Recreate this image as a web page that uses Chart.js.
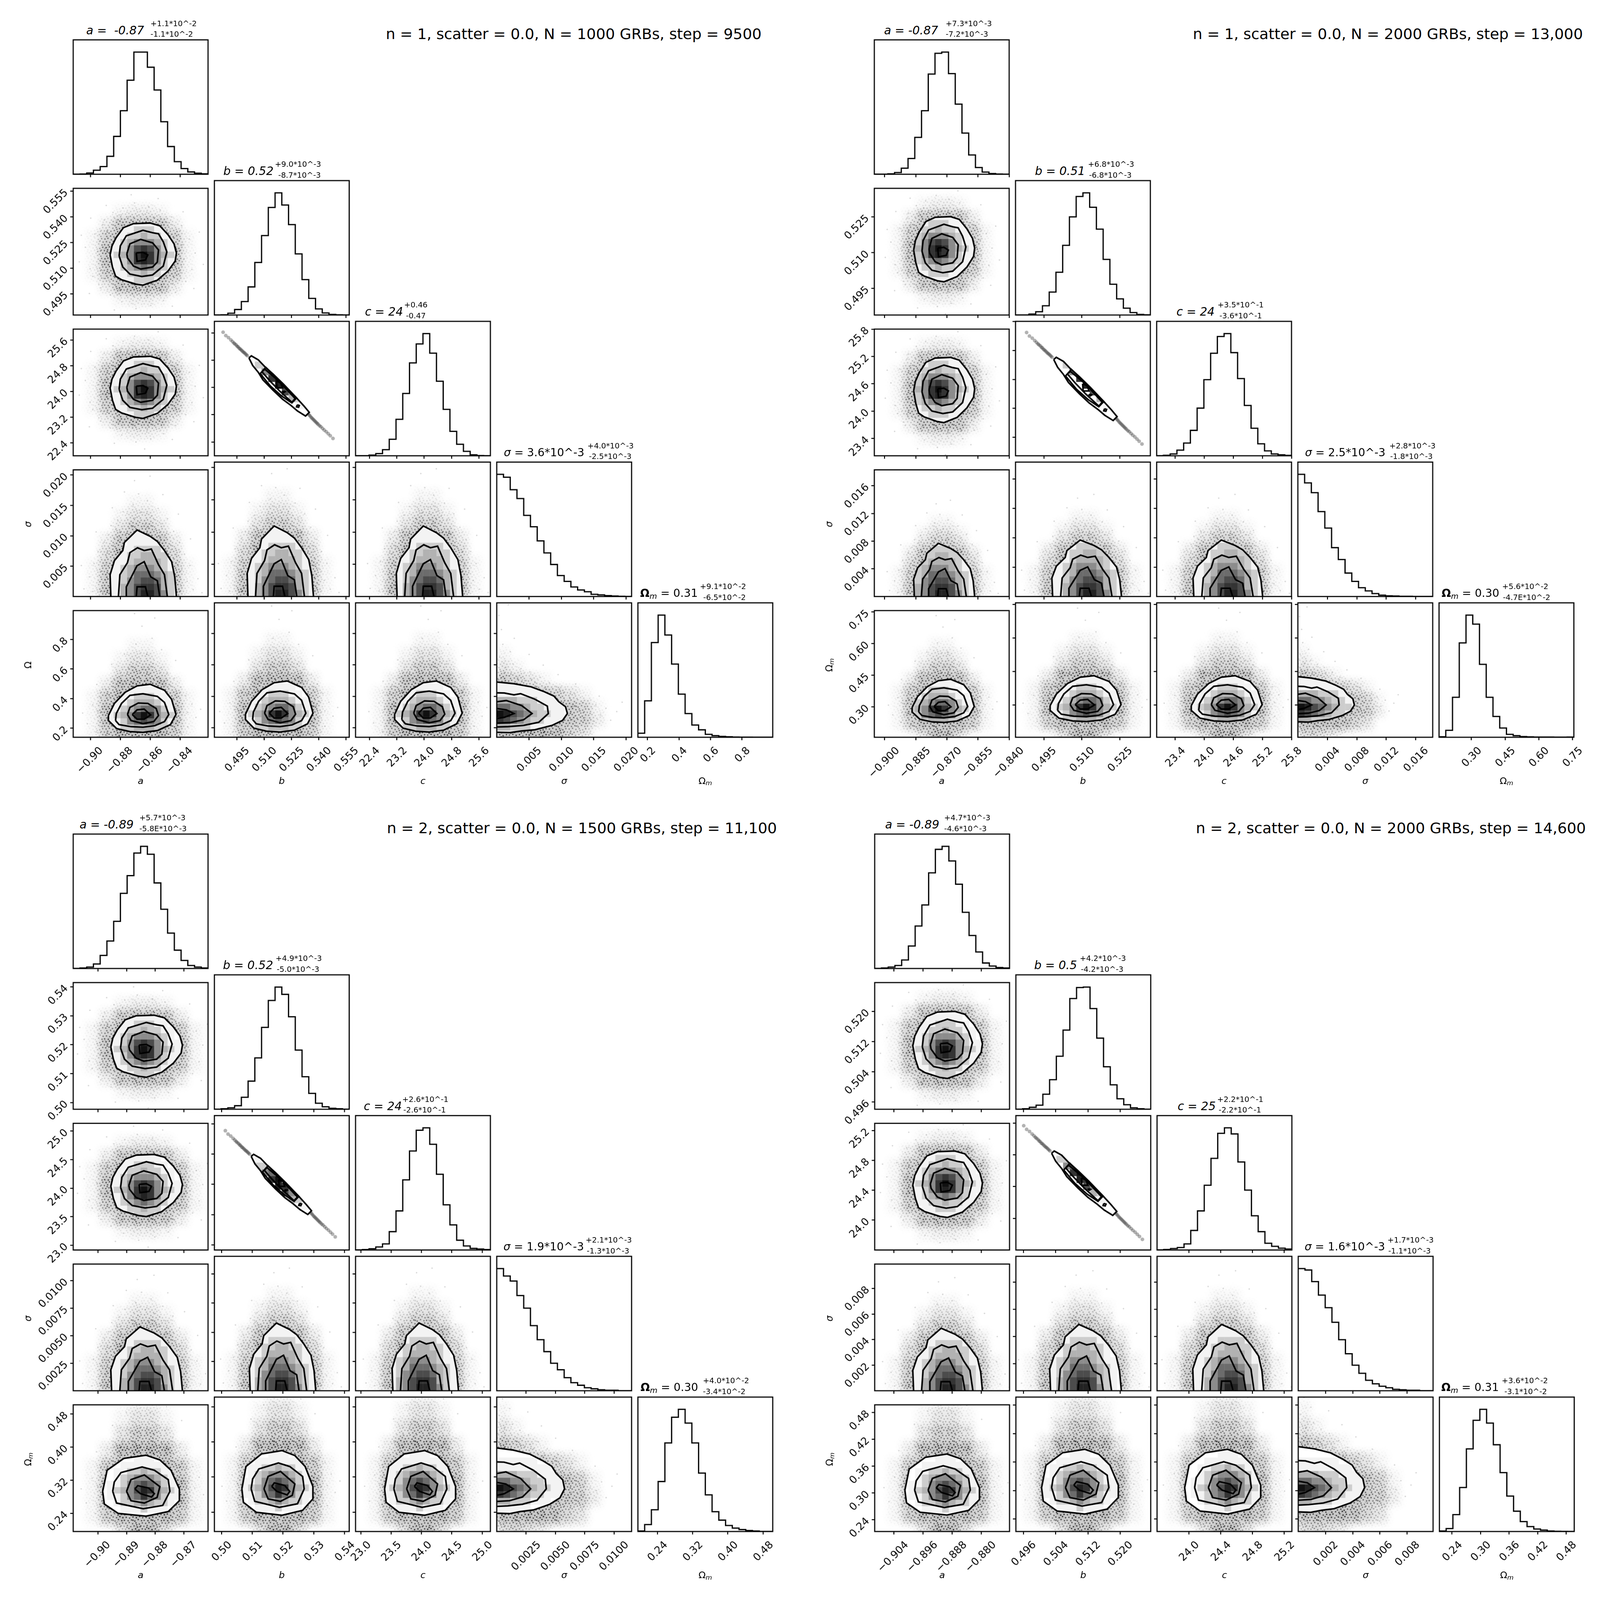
<!DOCTYPE html>
<html>
<head>
<meta charset="utf-8">
<title>Corner plots</title>
<script src="https://cdn.jsdelivr.net/npm/chart.js@4"></script>
<style>
  html, body { margin: 0; padding: 0; background: #fff; overflow: hidden; }
  #page { position: relative; width: 4284px; height: 4297px; overflow: hidden; background: #fff; font-family: "DejaVu Sans", sans-serif; color: #000; transform-origin: 0 0; }
  #page canvas { position: absolute; }
  #page div.txt { position: absolute; white-space: pre; line-height: 1; }
  sub { font-size: 70%; vertical-align: baseline; position: relative; top: .25em; }
</style>
</head>
<body>
<div id="page"></div>
<script>
// Figure titles
const figureTitles = [
    'n = 1, scatter = 0.0, N = 1000 GRBs, step = 9500',
    'n = 1, scatter = 0.0, N = 2000 GRBs, step = 13,000',
    'n = 2, scatter = 0.0, N = 1500 GRBs, step = 11,100',
    'n = 2, scatter = 0.0, N = 2000 GRBs, step = 14,600'
];

// Diagonal titles: value, upper error, lower error (a, b, c, sigma, omega)
const fig1Values = ['-0.87', '0.52', '24', '3.6*10^-3', '0.31'];
const fig1Upper = ['+1.1*10^-2', '+9.0*10^-3', '+0.46', '+4.0*10^-3', '+9.1*10^-2'];
const fig1Lower = ['-1.1*10^-2', '-8.7*10^-3', '-0.47', '-2.5*10^-3', '-6.5*10^-2'];
const fig2Values = ['-0.87', '0.51', '24', '2.5*10^-3', '0.30'];
const fig2Upper = ['+7.3*10^-3', '+6.8*10^-3', '+3.5*10^-1', '+2.8*10^-3', '+5.6*10^-2'];
const fig2Lower = ['-7.2*10^-3', '-6.8*10^-3', '-3.6*10^-1', '-1.8*10^-3', '-4.7E*10^-2'];
const fig3Values = ['-0.89', '0.52', '24', '1.9*10^-3', '0.30'];
const fig3Upper = ['+5.7*10^-3', '+4.9*10^-3', '+2.6*10^-1', '+2.1*10^-3', '+4.0*10^-2'];
const fig3Lower = ['-5.8E*10^-3', '-5.0*10^-3', '-2.6*10^-1', '-1.3*10^-3', '-3.4*10^-2'];
const fig4Values = ['-0.89', '0.5', '25', '1.6*10^-3', '0.31'];
const fig4Upper = ['+4.7*10^-3', '+4.2*10^-3', '+2.2*10^-1', '+1.7*10^-3', '+3.6*10^-2'];
const fig4Lower = ['-4.6*10^-3', '-4.2*10^-3', '-2.2*10^-1', '-1.1*10^-3', '-3.1*10^-2'];

// Axis ranges per parameter
const fig1Ranges = [[-0.9115, -0.8213], [0.4826, 0.5567], [21.996, 25.937], [0, 0.02085], [0.139, 0.995]];
const fig2Ranges = [[-0.905, -0.84], [0.4838, 0.537], [23.02, 25.8], [0, 0.0183], [0.1556, 0.7567]];
const fig3Ranges = [[-0.9086, -0.8616], [0.4977, 0.5415], [22.915, 25.136], [0, 0.0115], [0.196, 0.502]];
const fig4Ranges = [[-0.9092, -0.8723], [0.4941, 0.5276], [23.6, 25.296], [0, 0.0099], [0.2135, 0.497]];

// Tick labels per parameter
const fig1Ticks = [['−0.90', '−0.88', '−0.86', '−0.84'], ['0.495', '0.510', '0.525', '0.540', '0.555'], ['22.4', '23.2', '24.0', '24.8', '25.6'], ['0.005', '0.010', '0.015', '0.020'], ['0.2', '0.4', '0.6', '0.8']];
const fig2Ticks = [['−0.900', '−0.885', '−0.870', '−0.855', '−0.840'], ['0.495', '0.510', '0.525'], ['23.4', '24.0', '24.6', '25.2', '25.8'], ['0.004', '0.008', '0.012', '0.016'], ['0.30', '0.45', '0.60', '0.75']];
const fig3Ticks = [['−0.90', '−0.89', '−0.88', '−0.87'], ['0.50', '0.51', '0.52', '0.53', '0.54'], ['23.0', '23.5', '24.0', '24.5', '25.0'], ['0.0025', '0.0050', '0.0075', '0.0100'], ['0.24', '0.32', '0.40', '0.48']];
const fig4Ticks = [['−0.904', '−0.896', '−0.888', '−0.880'], ['0.496', '0.504', '0.512', '0.520'], ['24.0', '24.4', '24.8', '25.2'], ['0.002', '0.004', '0.006', '0.008'], ['0.24', '0.30', '0.36', '0.42', '0.48']];

// Posterior centre and contour width (relative to figure 1 in bin units)
const fig1Centers = [-0.8664, 0.5174, 24.08, 0, 0.29];
const fig2Centers = [-0.8725, 0.5108, 24.43, 0, 0.30];
const fig3Centers = [-0.884, 0.519, 24.02, 0, 0.293];
const fig4Centers = [-0.89, 0.5107, 24.46, 0, 0.306];
const fig1Spread = [1, 1, 1, 1, 1];
const fig2Spread = [0.92, 1.05, 1.05, 0.8, 0.9];
const fig3Spread = [1.08, 1, 1, 0.96, 1.3];
const fig4Spread = [1.05, 1.08, 1.07, 0.94, 1.3];

// Histogram heights, 20 bins, percent of peak
const fig1Hist = [
    [0, 0.2, 1, 3.3, 6.3, 14.7, 31, 52, 77, 100, 100, 87.6, 69, 43, 22.7, 10.3, 4.7, 1.9, 0.9, 0.3],
    [0, 0.2, 1.5, 4.5, 11, 23, 43, 65, 88, 100, 90, 74, 50, 29, 13.6, 5, 1.7, 0.5, 0.2, 0],
    [0, 0, 0.6, 1.8, 5, 13.5, 29.8, 51, 76, 91.5, 100, 84, 61, 38, 20, 9.4, 3.6, 0.8, 0.2, 0],
    [100, 97.6, 87.4, 80.2, 66.4, 57.1, 45.5, 35.7, 26.2, 17.2, 12.4, 7.8, 5.4, 3.9, 1.8, 1.3, 0.7, 0.4, 0.2, 0],
    [3.3, 29.8, 77.5, 100, 83.7, 59.9, 35.3, 19.4, 10, 6.1, 2.4, 1.3, 0.7, 0.4, 0.2, 0.1, 0.1, 0, 0, 0]
];
const fig2Hist = [
    [0, 0, 0.3, 1.4, 5, 12.9, 30.2, 52, 82, 99, 100, 82.4, 57.4, 33.7, 15.8, 5.5, 1.8, 0.6, 0.2, 0],
    [0, 0, 0.8, 2.7, 7.6, 18.8, 35, 57, 80.3, 97, 100, 88.2, 70.3, 45.5, 25.2, 13.2, 5.6, 2, 0.5, 0.2],
    [0, 0.4, 1.5, 4.6, 10.4, 20.8, 39, 62.3, 83.9, 97.6, 100, 84.4, 63.2, 41.2, 22.5, 9.8, 4, 1.5, 0.8, 0.3],
    [100, 93, 85, 69.5, 56, 40, 30.3, 19.2, 12.4, 7.2, 4.6, 2.4, 1.1, 0.6, 0.4, 0.2, 0.2, 0, 0, 0],
    [0.4, 5.7, 32.7, 77.2, 100, 92.6, 59.7, 32.7, 17, 7.6, 2.4, 1.3, 0.6, 0.3, 0.2, 0.2, 0.2, 0.1, 0.1, 0.2]
];
const fig3Hist = [
    [0, 0.4, 1.2, 3.7, 10.7, 22.5, 38.6, 61.5, 76, 94.5, 100, 93.5, 70, 48.5, 29, 15, 6.6, 2.5, 1.2, 0.4],
    [0, 0.4, 1.2, 2.9, 9.8, 23, 42, 67, 89, 100, 94, 75.7, 48.4, 26.6, 13, 4.9, 2, 0.8, 0.4, 0],
    [0, 0.3, 1, 2.5, 5, 15, 32, 57.4, 81, 98, 100, 86.5, 62, 37, 20.5, 8, 3.3, 1.3, 0.8, 0.3],
    [100, 93.9, 89.8, 77.9, 67.6, 53.3, 41.8, 32, 22.5, 17.2, 10.7, 6.6, 4.5, 2.5, 1.6, 0.8, 0.4, 0.4, 0, 0],
    [0.4, 5.7, 17.8, 40.9, 72.5, 93.5, 100, 88.7, 72.5, 47.8, 30, 16.2, 9.3, 4.9, 2.8, 1.6, 0.8, 0.4, 0, 0]
];
const fig4Hist = [
    [0, 0.4, 1.2, 2.5, 7, 18.4, 34.8, 52, 78.3, 97.5, 100, 88, 69, 46, 27, 13.5, 4.5, 2, 0.8, 0.4],
    [0, 0.4, 1.6, 3.3, 12.3, 24.2, 43.4, 64.8, 90.6, 99.6, 100, 82.4, 58.2, 34.8, 20, 8.6, 3.7, 1.2, 0.4, 0],
    [0, 0.4, 1.2, 2, 5, 16, 32, 53, 75, 95.5, 100, 95, 72, 49, 28, 15, 5.5, 3, 1.5, 0.8],
    [100, 98.8, 89.3, 78.3, 68, 56, 41.8, 30.3, 20.9, 14.3, 8.6, 5.7, 3.7, 2.5, 1.2, 0.8, 0.4, 0.4, 0, 0],
    [0.4, 2.4, 13.8, 36, 67.6, 91, 100, 88.7, 71, 48.2, 29, 16.6, 8.1, 4, 2, 1.2, 0.4, 0.2, 0.1, 0]
];

// Contours, offsets from the centre in histogram bins
const roundContours = [
    [[-4.53, 0.1], [-4.25, 1.53], [-3.65, 2.8], [-2.55, 4.4], [-1.06, 5.03], [1.42, 5.13], [2.83, 4.71], [4.07, 3.28], [4.96, 1.85], [5.31, 0.41], [5.13, -0.86], [4.07, -2.45], [2.48, -3.89], [0.35, -4.68], [-0.71, -4.52], [-2.83, -3.82], [-3.72, -3.25], [-4.18, -1.82]],
    [[-3.19, -0.06], [-3.01, 1.53], [-2.12, 3.12], [0.35, 3.98], [1.77, 3.6], [2.65, 3.44], [3.36, 2.17], [3.89, 0.57], [3.36, -1.66], [1.77, -3.07], [0.18, -3.31], [-1.59, -2.93], [-2.65, -1.82]],
    [[-2.05, 0.25], [-1.59, 1.85], [0, 2.55], [1.77, 2], [2.65, 0.89], [2.48, -1.02], [1.77, -1.82], [0, -2.13], [-1.06, -1.66], [-1.95, -0.38]],
    [[-0.64, 0.41], [0.35, 0.51], [1.06, 0.1], [0.71, -0.7], [-0.53, -0.92]]
];
const sliverContours = [
    [[-4.27, 3.98], [-3.91, 4.29], [-2.88, 3.7], [-1.91, 2.68], [-0.66, 1.56], [0.86, 0.07], [2.8, -1.97], [3.9, -3.18], [4.68, -4.11], [4.13, -4.67], [2.94, -3.92], [1.97, -3.09], [0.72, -2.16], [-0.66, -0.86], [-2.19, 0.72], [-2.88, 1.84], [-3.71, 2.86]],
    [[-2.6, 1.65], [-1.77, 2.58], [-0.25, 1.1], [1.41, -0.58], [2.8, -1.97], [2.1, -2.71], [0.58, -1.69], [-1.08, -0.2]],
    [[-2.33, 1.93], [-1.91, 2.3], [0.17, 0.54], [2.58, -2.06], [2.1, -2.62], [0.3, -0.95], [-1.22, 0.63]],
    [[-0.19, 0.54], [0.44, 0.26], [0.72, -0.48], [-0.11, -0.48]],
    [[0.9, -0.95], [1.1, -1.04], [0.9, -1.17], [0.75, -1.04]],
    [[2.9, -3.0], [3.2, -3.1], [3.1, -3.35], [2.8, -3.3]]
];
const domeContours = [
    [[-4.42, -1], [-4.42, 0], [-4.53, 3.44], [-3.89, 5.67], [-2.65, 7.26], [-2.41, 8.54], [-0.53, 10.5], [1.42, 9.5], [2.48, 8.7], [3.54, 7.26], [4.6, 5.5], [5.06, 3.12], [5.31, 0], [5.31, -1]],
    [[-3.29, -1], [-3.29, 0], [-3.08, 3.44], [-1.95, 5.35], [-1.59, 6.94], [-0.46, 7.7], [0.53, 7.26], [1.59, 7.5], [2.65, 5.03], [3.54, 3.44], [3.96, 0], [3.96, -1]],
    [[-2.12, -1], [-2.12, 1.53], [-0.53, 4.87], [0.53, 5.5], [1.49, 3.12], [2.48, 2.48], [2.83, 0], [2.83, -1]],
    [[-0.64, -1], [-0.64, 0], [-0.53, 1.53], [0.71, 1.53], [1.06, 0], [1.06, -1]]
];
const eggContoursA = [
    [[-4.78, -0.1], [-4.78, -0.89], [-3.54, -2.17], [-1.59, -2.64], [0.35, -2.74], [2.48, -2.48], [4.42, -1.53], [5.24, 0.06], [4.6, 2.45], [3.54, 3.89], [1.42, 4.84], [-0.53, 4.59], [-2.3, 3.57], [-3.89, 1.82]],
    [[-3.72, -0.89], [-3.19, -1.53], [-1.42, -1.85], [0.35, -1.94], [2.12, -1.69], [3.54, -1.05], [4.18, 0.06], [3.54, 1.97], [2.48, 2.93], [0.35, 3.34], [-1.59, 3.09], [-2.83, 1.82], [-3.61, 0.22]],
    [[-1.95, 0.06], [-1.42, -0.89], [0.35, -1.37], [1.95, -1.05], [2.65, -0.1], [2.3, 1.02], [1.06, 1.82], [-0.35, 1.88], [-1.59, 1.18]],
    [[-1.24, 0.06], [-0.53, -0.67], [0.53, -0.67], [1.49, 0], [0.53, 0.92], [-0.53, 0.8]]
];
const eggContoursB = [
    [[-5.65, 0], [-5.42, -2], [-3.51, -3.48], [0.3, -3.92], [3.36, -3.19], [4.89, -1.48], [4.89, 0.37], [3.74, 3.33], [2.21, 4.96], [0.3, 5.7], [-2.75, 5.19], [-5.04, 3.33]],
    [[-4.27, 0], [-3.74, -1.85], [-0.08, -2.74], [2.6, -2.22], [3.59, 0], [3.36, 1.85], [1.45, 3.33], [-0.23, 3.85], [-3.13, 2.96], [-4.05, 1.48]],
    [[-2.37, 0], [-1.76, -1.48], [0.08, -1.85], [1.83, -0.96], [2.21, 0.74], [0.08, 2.59], [-1.76, 1.85]],
    [[-1.22, 0.37], [-0.46, -0.37], [1.07, -0.89], [1.45, -0.37], [0.69, 0.52], [-0.84, 0.89]]
];
const wedgeContours = [
    [[-1, -2.78], [0, -2.78], [1.98, -2.83], [3.68, -2.59], [5.67, -2.41], [8.2, -1.76], [9.77, -1.02], [10.48, 0], [10.2, 1.02], [9.2, 1.76], [8.5, 2.59], [7.08, 3.24], [5.1, 3.98], [2.55, 4.44], [0, 4.69], [-1, 4.69]],
    [[-1, -2], [0, -2], [1.7, -1.94], [3.97, -1.76], [6.23, -1.3], [7.65, 0], [7.5, 1.11], [5.67, 2.13], [3.54, 2.96], [2.55, 2.78], [1.13, 3.06], [0, 3.09], [-1, 3.09]],
    [[-1, -1.44], [0, -1.44], [1.98, -1.35], [3.97, -0.93], [5.24, 0], [3.68, 1.2], [1.42, 1.94], [0, 1.76], [-1, 1.76]],
    [[-1, -0.74], [0, -0.74], [1.13, -0.56], [2.55, 0], [1.42, 0.56], [0, 0.74], [-1, 0.74]]
];

// Density cells: grey level per bin, first row is the top one
const roundCells = ['00011111000', '00112221100', '01122322110', '01234443210', '11246764211', '12347974321', '11247874211', '01234543210', '01122322110', '00112221100', '00011111000'];
const sliverCells = ['00000000000', '00100000000', '00220000000', '00045000000', '00007900000', '00000870000', '00000064000', '00000003200', '00000000110', '00000000000', '00000000000'];
const domeCells = ['00001110000', '00011111100', '00011111110', '00112222110', '01122332210', '01123333210', '11234443211', '11235554321', '11245665321', '11346776321', '11346886421'];
const eggCellsA = ['00011111000', '00112221100', '01123332110', '11234554211', '12347974321', '11245654211', '01223332210', '00111111100'];
const eggCellsB = ['00001110000', '00111111100', '01122322110', '01234443210', '11245654211', '12346874321', '11245754211', '01223432210', '00111211100'];
const wedgeCells = ['11111100000', '11111111000', '33322211100', '55443221110', '98654322110', '76543221110', '33222111000', '11111000000'];

// Point haze around the contours, 2 bin cells, first row is the top one
const roundHaze = ['0000000000', '0001221000', '0027887200', '0169999610', '0189999810', '0189999810', '0169999610', '0027887200', '0001221000', '0000000000'];
const domeHaze = ['0000000000', '0000000000', '0000110000', '0001331000', '0003663000', '0027997200', '0049999400', '0169999610', '0179999710', '0189999810'];
const eggHaze = ['0000000000', '0000110000', '0001331000', '0003663000', '0028998200', '0169999610', '0189999810', '0189999810', '0169999610', '0003993000'];
const wedgeHaze = ['0000000000', '1000000000', '3100000000', '7531000000', '9997531000', '9999875100', '9999976200', '9999853000', '4532000000'];

// Sample of individual points seen outside the contours, in bins from the centre
const roundDots = [[-8.2, 1.3], [-7.5, -2.1], [-6.8, 3.4], [-6.2, -4.6], [-5.4, 5.6], [-4.1, 6.8], [-2.6, 7.5], [-0.9, 8.3], [1.2, 7.7], [2.9, 7.2], [4.6, 6.1], [6.1, 4.7], [7.2, 2.6], [8.1, 0.4], [7.6, -2.2], [6.7, -4.1], [5.2, -5.8], [3.4, -7.1], [1.5, -7.9], [-0.7, -8.4], [-2.8, -7.3], [-4.5, -6.2], [-5.9, -5.1], [-7.1, -3.3], [-6.4, 0.6], [-6.1, 2.2], [-5.6, -2.4], [-5.9, -0.9], [-5, 3.9], [-3.6, 5.6], [-1.8, 6.1], [0.4, 6.4], [2.1, 6], [3.9, 5.2], [5.4, 3.8], [6.2, 1.7], [6.4, -0.6], [5.9, -2.7], [4.8, -4.4], [3.1, -5.7], [1, -6.3], [-1.2, -6.1], [-3.2, -5.3], [-4.7, -3.9], [-9.1, -1], [-8.8, 3.2], [-7.4, 5.9], [-5.1, 7.9], [-1.4, 9.6], [2.6, 9], [6.3, 6.9], [8.7, 3.7], [9.3, -1.4], [7.9, -5.2], [4.7, -8], [0.6, -9.5], [-3.9, -8.6], [-7.6, -6], [-5.3, 1.1], [-5.6, 4.9], [-2.9, 6.4], [1.1, 5.6], [4.4, 4.2], [5.7, 0.2], [4.1, -5.1], [-0.2, -5.6], [-5.5, -3.6]];
const sliverDots = [[-8.1, 7.8], [-7.7, 7.3], [-7.3, 7], [-6.95, 6.65], [-6.7, 6.4], [-6.5, 6.2], [-6.35, 6.05], [-6.15, 5.9], [-6, 5.7], [-5.85, 5.6], [-5.7, 5.4], [-5.55, 5.3], [-5.4, 5.15], [-5.25, 5], [-5.1, 4.85], [-4.95, 4.75], [-4.8, 4.6], [-4.65, 4.45], [-4.5, 4.3], [4.5, -4.3], [4.65, -4.5], [4.8, -4.65], [4.95, -4.85], [5.1, -5], [5.25, -5.15], [5.4, -5.3], [5.55, -5.45], [5.7, -5.6], [5.85, -5.75], [6, -5.9], [6.2, -6.1], [6.4, -6.25], [6.65, -6.5], [6.9, -6.75], [7.2, -7], [7.5, -7.3], [7.8, -7.6], [8.2, -8]];
const domeDots = [[-8.4, 1.2], [-7.6, 3.1], [-7.1, 0.8], [-6.9, 5.2], [-6.3, 7.1], [-6.1, 2.3], [-5.7, 4], [-5.4, 8.6], [-5.6, 0.7], [-5.1, 6.4], [-4.8, 9.7], [-4.4, 11.2], [-3.9, 8.3], [-3.4, 12.1], [-3.1, 10.2], [-2.6, 13.4], [-2.2, 9.9], [-1.7, 11.6], [-1.1, 14.5], [-0.8, 12.4], [-0.3, 16.2], [0.2, 13.3], [0.7, 11.4], [1, 15.1], [1.6, 12.7], [2.1, 10.6], [2.6, 13.9], [3, 11.5], [3.5, 9.4], [4, 12.3], [4.4, 8.2], [4.9, 10.3], [5.3, 6.6], [5.8, 8.5], [6.1, 4.2], [6.5, 6.7], [6.9, 2.4], [7.3, 4.9], [7.8, 1.1], [8.5, 2.8], [9.1, 0.6], [-0.9, 18.3], [1.4, 19], [-2.4, 16.5], [3.3, 16.1], [-4.2, 14], [5.6, 13], [-6.6, 10.2], [7.4, 9.1], [-8.8, 4.9], [-4.6, 7.2], [-3.2, 9], [-1.3, 11], [0.9, 10.9], [2.9, 9.5], [4.5, 7.4], [5.6, 4.8], [5.9, 1.9], [-5.2, 2.6], [-5.1, 5], [-0.4, 10.3], [-3.7, 10.6], [2.2, 12.1]];
const eggDots = [[-8.6, 0.3], [-7.9, -1.4], [-7.1, 1.6], [-6.6, -2.7], [-6.3, 0.6], [-5.9, 2.8], [-5.6, -1.1], [-5.2, 4.1], [-5, -3.2], [-4.6, 2.9], [-4.2, 5.3], [-3.6, -3.7], [-3.3, 4.4], [-2.9, 6.2], [-2.2, 5.2], [-1.8, 7.3], [-1.2, 6.1], [-0.6, 8.4], [-0.2, 5.9], [0.4, 7.2], [0.9, 9.6], [1.3, 6.4], [1.9, 8.1], [2.4, 5.9], [2.9, 7.4], [3.4, 5.2], [4, 6.6], [4.4, 4.7], [5, 5.8], [5.3, 3.4], [5.9, 4.4], [6.2, 1.8], [6.7, 3], [7, 0.4], [7.6, 1.7], [8.2, -0.4], [8.9, 0.9], [7, -1.9], [6, -2.9], [4.9, -3.4], [3.3, -3.9], [1.2, -4.2], [-1, -4.3], [-0.7, 11.2], [1.7, 12.1], [-2.4, 9.6], [3.1, 10.3], [-4.3, 8], [5.2, 8.6], [-6.5, 4.8], [0.2, 14], [-0.9, 16], [2.1, 15.3], [-5.7, 0.4], [5.7, 1.2], [-3.8, 3.2], [3.7, 4.6], [6.1, -0.7], [-6, -1.8]];
const wedgeDots = [[0.6, 5.2], [1.2, 6.8], [0.4, 8.4], [1.8, 5.6], [2.4, 7.4], [3.1, 5.4], [0.9, 10.3], [2, 9.2], [3.6, 6.7], [4.4, 4.9], [4.9, 6.2], [5.7, 4.6], [6.4, 5.4], [7.1, 3.8], [7.8, 4.6], [8.6, 3.1], [9.2, 2.7], [9.5, 3.9], [10, 1.8], [10.8, 2.4], [11.3, 1.1], [11.6, 2.9], [12.2, 0.4], [12.7, 1.6], [13.1, -0.6], [13.6, 0.7], [14.3, -1.1], [14.7, 1.3], [15.4, -0.2], [16.2, 0.8], [16.9, -1], [17.8, 0.3], [11.2, -0.9], [12, -1.8], [10.6, -1.7], [9.6, -2.3], [8.3, -2.7], [6.4, -3.4], [4.7, -3.5], [2.9, -3.7], [1.1, -3.8], [13.2, -2.3], [15.2, 2.6], [18.6, 1.7], [0.7, 12.5], [2.6, 11.2], [4.8, 8.8], [6.9, 7.2], [9.1, 5.8], [11.7, 4.4], [0.3, 14.6], [1.7, 16.2], [0.5, 5.7], [3.8, 5], [5.2, 5.1], [11, 0.2], [11.6, -0.4]];

// Grain of the haze: dot positions in a 53 px tile
const grainTile = [[3, 4], [11, 2], [20, 6], [29, 1], [38, 5], [47, 3], [7, 11], [16, 13], [25, 10], [34, 12], [43, 9], [51, 12], [2, 19], [12, 20], [21, 18], [30, 21], [39, 17], [48, 20], [6, 27], [15, 25], [24, 28], [33, 26], [42, 29], [50, 26], [1, 35], [10, 33], [19, 36], [28, 34], [37, 37], [46, 34], [5, 43], [14, 41], [23, 44], [32, 42], [41, 45], [50, 42], [8, 50], [18, 49], [27, 51], [36, 48], [45, 50], [25, 19], [44, 36], [9, 38], [35, 31]];

// Layout and styles
const PLOT = 361, PITCH = 378, BINS = 20;
const MARGIN_L = 130, MARGIN_B = 130, MARGIN_T = 6, MARGIN_R = 50;
const GREYS = ['#fff', '#f3f3f3', '#cdcdcd', '#b2b2b2', '#8c8c8c', '#6c6c6c', '#4c4c4c', '#343434', '#222', '#111'];
const FONT = '"DejaVu Sans"';

const layouts = [
    { left: 196, top: 107, title: [1033, 91], main: [231, 598, 977, 1349, 1714], up: [403, 736, 1082, 1573, 1874], low: [403, 745, 1087, 1577, 1883] },
    { left: 2341, top: 107, title: [3194, 91], main: [2367, 2771, 3150, 3494, 3860], up: [2532, 2913, 3260, 3720, 4022], low: [2532, 2916, 3265, 3722, 4024] },
    { left: 196, top: 2240, title: [1036, 2224], main: [213, 597, 974, 1348, 1715], up: [373, 738, 1077, 1568, 1882], low: [373, 741, 1080, 1571, 1882] },
    { left: 2342, top: 2240, title: [3202, 2224], main: [2370, 2769, 3153, 3493, 3859], up: [2528, 2891, 3259, 3715, 4021], low: [2528, 2894, 3263, 3717, 4028] }
];

const figures = [
    { values: fig1Values, upper: fig1Upper, lower: fig1Lower, ranges: fig1Ranges, ticks: fig1Ticks, centers: fig1Centers, spread: fig1Spread, hist: fig1Hist, eggs: eggContoursA, eggCells: eggCellsA, eggUnit: 1, omegaAxis: 'Ω' },
    { values: fig2Values, upper: fig2Upper, lower: fig2Lower, ranges: fig2Ranges, ticks: fig2Ticks, centers: fig2Centers, spread: fig2Spread, hist: fig2Hist, eggs: eggContoursA, eggCells: eggCellsA, eggUnit: 1, omegaAxis: 'Ω<sub><i>m</i></sub>' },
    { values: fig3Values, upper: fig3Upper, lower: fig3Lower, ranges: fig3Ranges, ticks: fig3Ticks, centers: fig3Centers, spread: fig3Spread, hist: fig3Hist, eggs: eggContoursB, eggCells: eggCellsB, eggUnit: 0.77, omegaAxis: 'Ω<sub><i>m</i></sub>' },
    { values: fig4Values, upper: fig4Upper, lower: fig4Lower, ranges: fig4Ranges, ticks: fig4Ticks, centers: fig4Centers, spread: fig4Spread, hist: fig4Hist, eggs: eggContoursB, eggCells: eggCellsB, eggUnit: 0.77, omegaAxis: 'Ω<sub><i>m</i></sub>' }
];

const page = document.getElementById('page');

// Fit the page to the window the browser really gave us
function fitPage() {
    const kx = Math.min(1, window.innerWidth / 4284), ky = Math.min(1, window.innerHeight / 4297);
    page.style.transform = 'scale(' + kx + ',' + ky + ')';
}
fitPage();

// Tile used to break the haze into grain
const grainCanvas = document.createElement('canvas');
grainCanvas.width = grainCanvas.height = 53;
(function () {
    const g = grainCanvas.getContext('2d');
    g.fillStyle = 'rgba(0,0,0,0.3)';
    g.fillRect(0, 0, 53, 53);
    g.fillStyle = '#000';
    grainTile.forEach(p => {
        g.beginPath();
        g.arc(p[0], p[1], 2, 0, Math.PI * 2);
        g.fill();
    });
})();

// Add a text block, y is the baseline
function addText(html, x, y, size) {
    const div = document.createElement('div');
    div.className = 'txt';
    div.innerHTML = html;
    div.style.left = x + 'px';
    div.style.top = (y - 0.846 * size) + 'px';
    div.style.fontSize = size + 'px';
    page.appendChild(div);
    return div;
}

// Scale options with fixed tick list and fixed outer size
function axisOptions(range, labels, isX, showLabels) {
    const longest = labels.reduce((m, s) => Math.max(m, s.length), 0);
    return {
        type: 'linear',
        min: range[0],
        max: range[1],
        border: { display: false },
        grid: { display: labels.length > 0, drawOnChartArea: false, drawTicks: true, tickLength: 8, color: '#000', lineWidth: 2.6 },
        ticks: {
            display: showLabels,
            autoSkip: false,
            minRotation: 45,
            maxRotation: 45,
            padding: isX ? 12 : 10,
            labelOffset: isX ? longest * 5.9 : 0,
            color: '#000',
            font: { family: FONT, size: 28 },
            callback: (value, index) => labels[index]
        },
        afterBuildTicks: axis => { axis.ticks = labels.map(s => ({ value: Number(s.replace('−', '-')) })); },
        afterFit: axis => {
            if (isX) axis.height = MARGIN_B; else axis.width = MARGIN_L;
        }
    };
}

// Frame around the axes
const framePlugin = {
    id: 'frame',
    afterDraw(chart) {
        const a = chart.chartArea, ctx = chart.ctx;
        ctx.save();
        ctx.strokeStyle = '#000';
        ctx.lineWidth = 3;
        ctx.strokeRect(a.left, a.top, a.right - a.left, a.bottom - a.top);
        ctx.restore();
    }
};

// Haze below the points, white fill and density cells below the contours
function densityPlugin(sh) {
    return {
        id: 'density',
        beforeDatasetsDraw(chart) {
            if (!sh.haze) return;
            const ctx = chart.ctx, a = chart.chartArea;
            const xs = chart.scales.x, ys = chart.scales.y;
            ctx.save();
            ctx.beginPath();
            ctx.rect(a.left, a.top, a.right - a.left, a.bottom - a.top);
            ctx.clip();
            ctx.save();
            ctx.filter = 'blur(10px)';
            sh.haze.forEach((row, r) => {
                for (let c = 0; c < row.length; c++) {
                    const d = Number(row[c]);
                    if (!d) continue;
                    const x0 = xs.getPixelForValue(sh.toX(sh.hazeLeft + c * 2));
                    const x1 = xs.getPixelForValue(sh.toX(sh.hazeLeft + c * 2 + 2));
                    const y0 = ys.getPixelForValue(sh.toY(sh.hazeTop - r * 2));
                    const y1 = ys.getPixelForValue(sh.toY(sh.hazeTop - r * 2 - 2));
                    ctx.fillStyle = 'rgba(0,0,0,' + (d * 0.1) + ')';
                    ctx.fillRect(x0, y0, x1 - x0, y1 - y0);
                }
            });
            ctx.restore();
            ctx.globalCompositeOperation = 'destination-in';
            ctx.fillStyle = ctx.createPattern(grainCanvas, 'repeat');
            ctx.fillRect(a.left, a.top, a.right - a.left, a.bottom - a.top);
            ctx.restore();
        },
        beforeDatasetDraw(chart, args) {
            if (args.index !== 1) return;
            const ctx = chart.ctx, a = chart.chartArea;
            const xs = chart.scales.x, ys = chart.scales.y;
            ctx.save();
            ctx.beginPath();
            ctx.rect(a.left, a.top, a.right - a.left, a.bottom - a.top);
            ctx.clip();
            ctx.beginPath();
            sh.contours[0].forEach((p, i) => {
                const px = xs.getPixelForValue(sh.toX(p[0])), py = ys.getPixelForValue(sh.toYLine(p[1]));
                if (i === 0) ctx.moveTo(px, py); else ctx.lineTo(px, py);
            });
            ctx.closePath();
            ctx.fillStyle = '#fff';
            ctx.fill();
            ctx.clip();
            sh.cells.forEach((row, r) => {
                for (let c = 0; c < row.length; c++) {
                    const d = Number(row[c]);
                    if (!d) continue;
                    const bx = sh.binX + sh.cellLeft + c, by = sh.binY + sh.cellTop - r;
                    const x0 = xs.getPixelForValue(sh.rx[0] + bx * sh.bwx);
                    const x1 = xs.getPixelForValue(sh.rx[0] + (bx + 1) * sh.bwx);
                    const y0 = ys.getPixelForValue(sh.ry[0] + (by + 1) * sh.bwy);
                    const y1 = ys.getPixelForValue(sh.ry[0] + by * sh.bwy);
                    ctx.fillStyle = GREYS[d];
                    ctx.fillRect(x0, y0, x1 - x0 + 0.3, y1 - y0 + 0.3);
                }
            });
            ctx.restore();
        }
    };
}

// Which contour family a parameter pair uses
function shapeFor(fig, i, j) {
    const rx = fig.ranges[i], ry = fig.ranges[j];
    const bwx = (rx[1] - rx[0]) / BINS, bwy = (ry[1] - ry[0]) / BINS;
    let s;
    if (j === 4 && i === 3) s = { contours: wedgeContours, cells: wedgeCells, dots: wedgeDots, haze: wedgeHaze, hazeLeft: 0, hazeTop: 12, cellLeft: 0, cellTop: 4 };
    else if (j === 4) s = { contours: fig.eggs, cells: fig.eggCells, dots: eggDots, haze: eggHaze, hazeLeft: -10, hazeTop: 14, cellLeft: -5, cellTop: fig.eggCells.length === 8 ? 4 : 5, contourUnit: fig.eggUnit };
    else if (j === 3) s = { contours: domeContours, cells: domeCells, dots: domeDots, haze: domeHaze, hazeLeft: -10, hazeTop: 20, cellLeft: -5, cellTop: 10 };
    else if (i === 1 && j === 2) s = { contours: sliverContours, cells: sliverCells, dots: sliverDots, haze: null, cellLeft: -5, cellTop: 5, heavyDots: true };
    else s = { contours: roundContours, cells: roundCells, dots: roundDots, haze: roundHaze, hazeLeft: -10, hazeTop: 10, cellLeft: -5, cellTop: 5 };
    const unit = s.contourUnit || 1;
    s.rx = rx; s.ry = ry; s.bwx = bwx; s.bwy = bwy;
    s.binX = Math.floor((fig.centers[i] - rx[0]) / bwx);
    s.binY = Math.floor((fig.centers[j] - ry[0]) / bwy);
    s.toX = u => fig.centers[i] + u * bwx * fig.spread[i];
    s.toY = v => fig.centers[j] + v * bwy * fig.spread[j];
    s.toYLine = v => fig.centers[j] + v * unit * bwy * fig.spread[j];
    return s;
}

// Canvas for one panel
function addCanvas(layout, col, row) {
    const canvas = document.createElement('canvas');
    canvas.width = MARGIN_L + PLOT + MARGIN_R;
    canvas.height = MARGIN_T + PLOT + MARGIN_B;
    canvas.style.left = (layout.left + col * PITCH - MARGIN_L) + 'px';
    canvas.style.top = (layout.top + row * PITCH - MARGIN_T) + 'px';
    canvas.style.width = canvas.width + 'px';
    canvas.style.height = canvas.height + 'px';
    page.appendChild(canvas);
    return canvas;
}

function baseOptions(scales) {
    return {
        responsive: false,
        animation: false,
        devicePixelRatio: 1,
        layout: { padding: { left: 0, bottom: 0, top: MARGIN_T, right: MARGIN_R } },
        plugins: { legend: { display: false }, tooltip: { enabled: false } },
        elements: { point: { radius: 0 } },
        scales
    };
}

// Histogram on the diagonal
function drawHistogram(fig, layout, i) {
    const r = fig.ranges[i];
    const bw = (r[1] - r[0]) / BINS;
    const heights = fig.hist[i];
    const points = heights.map((h, k) => ({ x: r[0] + k * bw, y: h }));
    points.push({ x: r[1], y: heights[BINS - 1] });
    new Chart(addCanvas(layout, i, i), {
        type: 'scatter',
        data: { datasets: [{ data: points, showLine: true, stepped: true, borderColor: '#000', borderWidth: 3.3, pointRadius: 0 }] },
        options: baseOptions({
            x: axisOptions(r, fig.ticks[i], true, i === 4),
            y: axisOptions([0, 110], [], false, false)
        }),
        plugins: [framePlugin]
    });
}

// Two parameter panel below the diagonal
function drawPair(fig, layout, i, j) {
    const sh = shapeFor(fig, i, j);
    const dots = sh.dots.map(p => ({ x: sh.toX(p[0]), y: sh.toY(p[1]) }));
    const datasets = [{
        data: dots,
        order: 9,
        pointRadius: sh.heavyDots ? 5 : 2,
        pointBackgroundColor: sh.heavyDots ? 'rgba(0,0,0,0.3)' : 'rgba(0,0,0,0.16)',
        pointBorderWidth: 0
    }];
    sh.contours.forEach((line, k) => {
        const pts = line.map(p => ({ x: sh.toX(p[0]), y: sh.toYLine(p[1]) }));
        pts.push(pts[0]);
        datasets.push({ data: pts, order: 8 - k, showLine: true, tension: 0, borderColor: '#000', borderWidth: 4.2, pointRadius: 0, borderJoinStyle: 'miter' });
    });
    new Chart(addCanvas(layout, i, j), {
        type: 'scatter',
        data: { datasets },
        options: baseOptions({
            x: axisOptions(sh.rx, fig.ticks[i], true, j === 4),
            y: axisOptions(sh.ry, fig.ticks[j], false, i === 0)
        }),
        plugins: [densityPlugin(sh), framePlugin]
    });
}

// Text above and beside the panels
function drawTexts(fig, layout, n) {
    const titleSize = 40, mainSize = 31, mathSize = 29.5, errSize = 20.5, axisSize = 25;
    addText(figureTitles[n], layout.title[0], layout.title[1] + 14, titleSize);
    const prefix = ['a', 'b', 'c'];
    for (let i = 0; i < 5; i++) {
        const top = layout.top + i * PITCH;
        let main;
        if (i < 3) main = '<i>' + prefix[i] + ' = ' + (i === 0 && n === 0 ? ' ' : '') + fig.values[i] + '</i>';
        else if (i === 3) main = '<i>σ</i> = ' + fig.values[i];
        else main = '<b>Ω</b><sub><i>m</i></sub> = ' + fig.values[i];
        addText(main, layout.main[i], top - 15, i < 3 ? mainSize : mathSize);
        addText(fig.upper[i], layout.up[i], top - 37, errSize);
        addText(fig.lower[i], layout.low[i], top - 8, errSize);
    }
    const xNames = ['<i>a</i>', '<i>b</i>', '<i>c</i>', '<i>σ</i>', 'Ω<sub><i>m</i></sub>'];
    const bottom = layout.top + 4 * PITCH + PLOT;
    xNames.forEach((name, i) => {
        const d = addText(name, layout.left + i * PITCH + PLOT / 2, bottom + 125, axisSize);
        d.style.transform = 'translateX(-50%)';
    });
    const yNames = [null, null, null, '<i>σ</i>', fig.omegaAxis];
    [3, 4].forEach(j => {
        const d = addText(yNames[j], layout.left - 121, layout.top + j * PITCH + PLOT / 2 + 8, axisSize);
        d.style.transform = 'translate(-50%,-50%) rotate(-90deg)';
    });
}

// Build the four corner plots
figures.forEach((fig, n) => {
    const layout = layouts[n];
    for (let j = 0; j < 5; j++) {
        for (let i = 0; i <= j; i++) {
            if (i === j) drawHistogram(fig, layout, i);
            else drawPair(fig, layout, i, j);
        }
    }
    drawTexts(fig, layout, n);
});
</script>
</body>
</html>
